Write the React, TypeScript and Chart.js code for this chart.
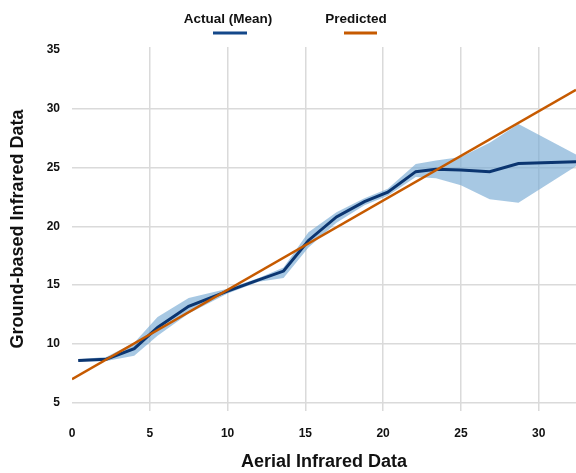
import React, { useEffect, useRef } from "react";
import { Chart, registerables } from "chart.js";

Chart.register(...registerables);

// Actual (mean) line and its band
const meanX = [0.4, 2.2, 4.0, 5.5, 7.5, 10.0, 12.0, 13.6, 15.2, 17.0, 18.8, 20.3, 22.1, 23.4, 25.0, 26.85, 28.7, 32.4];
const meanY = [8.6, 8.7, 9.6, 11.4, 13.2, 14.5, 15.45, 16.2, 18.8, 20.8, 22.1, 22.9, 24.65, 24.85, 24.8, 24.65, 25.35, 25.5];
const upperY = [8.7, 8.9, 10.1, 12.3, 13.9, 14.7, 15.6, 16.5, 19.5, 21.2, 22.4, 23.2, 25.3, 25.6, 25.9, 27.1, 28.7, 26.1];
const lowerY = [8.5, 8.55, 9.0, 10.7, 12.6, 14.3, 15.3, 15.6, 18.2, 20.3, 21.8, 22.6, 24.2, 24.1, 23.5, 22.3, 22.0, 25.1];

// Predicted (regression) line
const predX = [0, 32.4];
const predY = [7.0, 31.6];

const xTicks = [0, 5, 10, 15, 20, 25, 30];
const yTicks = [5, 10, 15, 20, 25, 30, 35];

const seriesNames = ["Actual (Mean)", "Predicted"];
const xTitle = "Aerial Infrared Data";
const yTitle = "Ground-based Infrared Data";

const MEAN_COLOR = "#0b3570";
const MEAN_LEGEND = "#14488a";
const PRED_COLOR = "#c65a00";
const BAND_COLOR = "rgba(120,170,212,0.65)";
const GRID = "#dadada";
const FONT = "'Liberation Sans', Arial, sans-serif";

const pts = (xs: number[], ys: number[]) => xs.map((x, i) => ({ x, y: ys[i] }));

const legendPlugin = {
  id: "topLegend",
  afterDraw(chart: any) {
    const ctx = chart.ctx;
    ctx.save();
    ctx.font = `bold 13.5px ${FONT}`;
    ctx.fillStyle = "#111";
    ctx.textAlign = "center";
    ctx.textBaseline = "middle";
    const items = [
      { text: seriesNames[0], cx: 228, color: MEAN_LEGEND, x0: 213, x1: 247 },
      { text: seriesNames[1], cx: 356, color: PRED_COLOR, x0: 344, x1: 377 },
    ];
    items.forEach((it) => {
      ctx.fillText(it.text, it.cx, 19);
      ctx.beginPath();
      ctx.strokeStyle = it.color;
      ctx.lineWidth = 3;
      ctx.moveTo(it.x0, 33);
      ctx.lineTo(it.x1, 33);
      ctx.stroke();
    });
    ctx.restore();
  },
};

export default function App() {
  const ref = useRef<HTMLCanvasElement | null>(null);
  useEffect(() => {
    document.body.style.margin = "0";
    const chart = new Chart(ref.current as HTMLCanvasElement, {
      type: "line",
      data: {
        datasets: [
          {
            label: seriesNames[1],
            data: pts(predX, predY),
            borderColor: PRED_COLOR,
            borderWidth: 2.5,
            pointRadius: 0,
            fill: false,
          },
          {
            label: seriesNames[0],
            data: pts(meanX, meanY),
            borderColor: MEAN_COLOR,
            borderWidth: 3,
            pointRadius: 0,
            fill: false,
          },
          {
            label: "upper",
            data: pts(meanX, upperY),
            borderWidth: 0,
            borderColor: "transparent",
            backgroundColor: BAND_COLOR,
            pointRadius: 0,
            fill: "+1",
          },
          {
            label: "lower",
            data: pts(meanX, lowerY),
            borderWidth: 0,
            borderColor: "transparent",
            pointRadius: 0,
            fill: false,
          },
        ],
      },
      options: {
        animation: false,
        responsive: false,
        maintainAspectRatio: false,
        layout: { padding: { top: 47, right: 0, left: 0, bottom: 0 } },
        plugins: { legend: { display: false }, tooltip: { enabled: false } },
        scales: {
          x: {
            type: "linear",
            min: 0,
            max: 32.4,
            afterBuildTicks: (s: any) => {
              s.ticks = xTicks.map((v) => ({ value: v }));
            },
            afterFit: (s: any) => {
              s.height = 62;
            },
            ticks: {
              padding: 15,
              color: "#111",
              font: { family: FONT, size: 12, weight: "bold" },
            },
            grid: {
              drawTicks: false,
              lineWidth: 1.5,
              color: (c: any) => (c.tick && c.tick.value === 0 ? "transparent" : GRID),
            },
            border: { display: false },
            title: {
              display: true,
              text: xTitle,
              color: "#111",
              font: { family: FONT, size: 18, weight: "bold" },
              padding: { top: 0, bottom: 0 },
            },
          },
          y: {
            type: "linear",
            min: 4.3,
            max: 35.25,
            afterBuildTicks: (s: any) => {
              s.ticks = yTicks.map((v) => ({ value: v }));
            },
            afterFit: (s: any) => {
              s.width = 72;
            },
            ticks: {
              padding: 12,
              color: "#111",
              font: { family: FONT, size: 12, weight: "bold" },
            },
            grid: {
              drawTicks: false,
              lineWidth: 1.5,
              color: (c: any) => (c.tick && c.tick.value === 35 ? "transparent" : GRID),
            },
            border: { display: false },
            title: {
              display: true,
              text: yTitle,
              color: "#111",
              font: { family: FONT, size: 18, weight: "bold" },
              padding: { top: 7.5, bottom: 0 },
            },
          },
        },
      },
      plugins: [legendPlugin],
    } as any);
    return () => chart.destroy();
  }, []);
  return (
    <div style={{ position: "absolute", left: 0, top: 0, width: 576, height: 473, background: "#fff" }}>
      <canvas ref={ref} width={576} height={473} style={{ display: "block", width: 576, height: 473 }} />
    </div>
  );
}
